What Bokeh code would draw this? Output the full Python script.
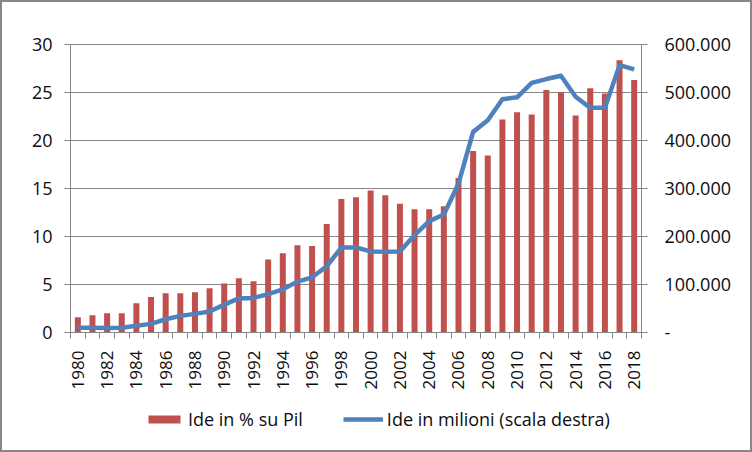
import math
from bokeh.plotting import figure
from bokeh.layouts import column
from bokeh.models import (Range1d, LinearAxis, FixedTicker, Legend, LegendItem,
                          ColumnDataSource)
from bokeh.embed import file_html
from bokeh.resources import INLINE

# ---- data ----
years = list(range(1980, 2019))
ide_pct = [1.6, 1.8, 2.0, 2.0, 3.05, 3.7, 4.1, 4.1, 4.2, 4.6,
           5.1, 5.65, 5.35, 7.6, 8.25, 9.1, 9.0, 11.3, 13.9, 14.1,
           14.8, 14.3, 13.4, 12.85, 12.85, 13.15, 16.1, 18.9, 18.45, 22.2,
           22.95, 22.7, 25.25, 25.0, 22.6, 25.45, 24.9, 28.35, 26.3]
ide_mln = [10000, 10000, 9500, 10000, 14000, 18000, 27600, 34600, 38800, 43800,
           58000, 71000, 72000, 80000, 90000, 106000, 115000, 138000, 177000, 177000,
           169000, 168000, 169000, 203000, 232000, 246000, 310000, 418000, 442000, 486000,
           490000, 520000, 528000, 535000, 491000, 468000, 468000, 557000, 548000]
left_ticks = [0, 5, 10, 15, 20, 25, 30]
right_ticks = [0, 100000, 200000, 300000, 400000, 500000, 600000]
right_labels = ["-", "100.000", "200.000", "300.000", "400.000", "500.000", "600.000"]
x_label_years = [y for y in years if y % 2 == 0]
bar_label = "Ide in % su Pil"
line_label = "Ide in milioni (scala destra)"

FONT = "Open Sans"
TXT = "#0d0d0d"
GRID = "#868686"
BAR_COLOR = "#C0504D"
LINE_COLOR = "#4F81BD"

src = ColumnDataSource(dict(year=years, pct=ide_pct, mln=ide_mln))

p = figure(width=748, height=390, output_backend="svg", toolbar_location=None,
           x_range=Range1d(years[0] - 0.5, years[-1] + 0.5),
           y_range=Range1d(0, 30),
           min_border_left=68, min_border_right=109,
           min_border_top=42, min_border_bottom=60,
           background_fill_color="white", border_fill_color="white")
p.outline_line_color = GRID
p.extra_y_ranges = {"right": Range1d(0, 600000)}

bars = p.vbar(x="year", top="pct", width=0.41, source=src,
              fill_color=BAR_COLOR, line_color=None)
ln = p.line(x="year", y="mln", source=src, y_range_name="right",
            line_color=LINE_COLOR, line_width=4.5, line_join="round")

# x axis
xa = p.xaxis[0]
xa.ticker = FixedTicker(ticks=x_label_years,
                        minor_ticks=[years[0] - 0.5 + i for i in range(len(years) + 1)])
xa.major_label_orientation = math.pi / 2
xa.major_tick_line_color = None
xa.major_tick_out = 0
xa.minor_tick_out = 6
xa.minor_tick_in = 0
xa.minor_tick_line_color = GRID
xa.axis_line_color = GRID
xa.major_label_text_font = FONT
xa.major_label_text_font_size = "17px"
xa.major_label_text_color = TXT
xa.major_label_standoff = 12

# left y axis
ya = p.yaxis[0]
ya.ticker = FixedTicker(ticks=left_ticks)
ya.minor_tick_line_color = None
ya.major_tick_out = 6
ya.major_tick_in = 0
ya.major_tick_line_color = GRID
ya.axis_line_color = GRID
ya.major_label_text_font = FONT
ya.major_label_text_font_size = "18px"
ya.major_label_text_color = TXT
ya.major_label_standoff = 12

# right y axis
ra = LinearAxis(y_range_name="right", ticker=FixedTicker(ticks=right_ticks),
                major_label_overrides=dict(zip(right_ticks, right_labels)))
ra.minor_tick_line_color = None
ra.major_tick_out = 6
ra.major_tick_in = 0
ra.major_tick_line_color = GRID
ra.axis_line_color = GRID
ra.major_label_text_font = FONT
ra.major_label_text_font_size = "18px"
ra.major_label_text_color = TXT
ra.major_label_standoff = 17
p.add_layout(ra, "right")

p.xgrid.visible = False
p.ygrid.ticker = FixedTicker(ticks=left_ticks)
p.ygrid.grid_line_color = GRID
p.ygrid.grid_line_width = 1

# legend strip: a small figure whose out-of-view copies of the series give the swatches
leg = figure(width=748, height=58, output_backend="svg", toolbar_location=None,
             x_range=Range1d(2100, 2200), y_range=Range1d(2e6, 3e6),
             x_axis_location=None, y_axis_location=None,
             min_border_left=0, min_border_right=0, min_border_top=0,
             min_border_bottom=0, background_fill_color="white",
             border_fill_color="white")
leg.grid.visible = False
leg.outline_line_color = None
lb = leg.vbar(x="year", top="pct", width=0.41, source=src,
              fill_color=BAR_COLOR, line_color=None)
ll = leg.line(x="year", y="mln", source=src, line_color=LINE_COLOR, line_width=4.5)

legend = Legend(items=[LegendItem(label=bar_label, renderers=[lb]),
                       LegendItem(label=line_label, renderers=[ll])],
                orientation="horizontal", location=(74, 19),
                glyph_width=40, glyph_height=10, label_standoff=4, spacing=40,
                label_text_font=FONT, label_text_font_size="18px",
                label_text_color=TXT, border_line_color=None,
                background_fill_alpha=0, padding=0, margin=0)
leg.add_layout(legend, "center")

layout = column(p, leg, spacing=0,
                styles={"border": "2px solid #878787"})

open("out.html", "w").write(file_html(layout, INLINE))
